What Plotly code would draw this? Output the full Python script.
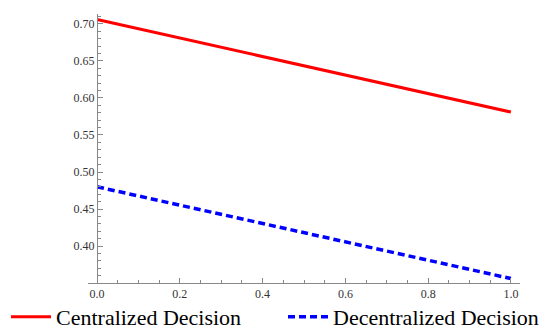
import plotly.graph_objects as go

x_vals = [0.0, 1.0]
centralized = [0.706, 0.581]
decentralized = [0.480, 0.356]
x_ticks = [0.0, 0.2, 0.4, 0.6, 0.8, 1.0]
x_tick_labels = ["0.0", "0.2", "0.4", "0.6", "0.8", "1.0"]
y_ticks = [0.40, 0.45, 0.50, 0.55, 0.60, 0.65, 0.70]
y_tick_labels = ["0.40", "0.45", "0.50", "0.55", "0.60", "0.65", "0.70"]

fig = go.Figure()
fig.add_trace(go.Scatter(x=x_vals, y=centralized, mode="lines", name="Centralized Decision",
                         line=dict(color="#ff0000", width=3), legend="legend"))
fig.add_trace(go.Scatter(x=x_vals, y=decentralized, mode="lines", name="Decentralized Decision",
                         line=dict(color="#0000ff", width=3.5, dash="7px,4px"), legend="legend2"))

font = "Liberation Serif"
leg_common = dict(orientation="h", xanchor="left", y=-0.1264, yanchor="middle",
                  font=dict(family=font, size=22, color="black"),
                  itemwidth=40, bgcolor="rgba(0,0,0,0)")
fig.update_layout(
    width=550, height=335,
    margin=dict(l=80, r=38, t=6, b=60, autoexpand=False),
    paper_bgcolor="white", plot_bgcolor="white",
    showlegend=True,
    legend=dict(x=-0.1898, **leg_common),
    legend2=dict(x=0.4514, **leg_common),
    xaxis=dict(range=[-0.022, 1.022], tickvals=x_ticks, ticktext=x_tick_labels,
               showgrid=False, zeroline=False, showline=True, linecolor="#888888", linewidth=1,
               ticks="inside", ticklen=5, tickcolor="#888888",
               minor=dict(dtick=0.05, ticks="inside", ticklen=3, tickcolor="#888888"),
               tickfont=dict(family=font, size=12, color="#333333")),
    yaxis=dict(range=[0.35, 0.7135], tickvals=y_ticks, ticktext=y_tick_labels,
               anchor="free", position=0.0208,
               showgrid=False, zeroline=False, showline=True, linecolor="#888888", linewidth=1,
               ticks="inside", ticklen=5, tickcolor="#888888",
               minor=dict(tickvals=[0.35 + 0.01 * i for i in range(37)], ticks="inside", ticklen=3, tickcolor="#888888"),
               tickfont=dict(family=font, size=12, color="#333333")),
)

fig.write_html("out.html")
